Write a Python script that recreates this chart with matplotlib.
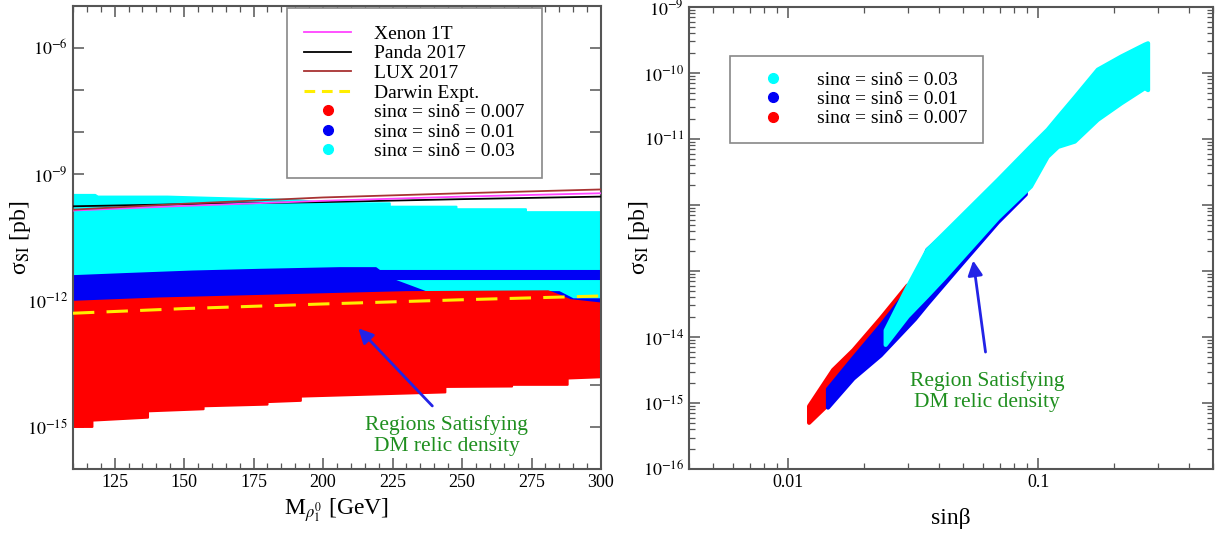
import numpy as np
import matplotlib
matplotlib.use('Agg')
import matplotlib.pyplot as plt
from matplotlib.lines import Line2D
from matplotlib.ticker import LogLocator, FuncFormatter, MultipleLocator, NullLocator, NullFormatter

plt.rcParams['font.family'] = ['Liberation Serif', 'DejaVu Serif']
plt.rcParams['mathtext.fontset'] = 'stix'

# ---------------- left panel: log10(sigma_SI / pb) vs M ----------------
mass_lines = [110, 150, 200, 250, 300]
xenon_1t = [-9.86, -9.75, -9.63, -9.53, -9.45]
panda_2017 = [-9.76, -9.71, -9.66, -9.59, -9.53]
lux_2017 = [-9.84, -9.70, -9.55, -9.45, -9.36]
darwin = [-12.30, -12.19, -12.08, -11.98, -11.89]

# sin(alpha)=sin(delta)=0.03 band
cyan_top_m = [110, 118, 119, 144, 160, 172, 190, 202, 224, 224, 248, 248, 273, 273, 300]
cyan_top = [-9.49, -9.49, -9.53, -9.53, -9.56, -9.58, -9.61, -9.69, -9.69, -9.77, -9.77, -9.83, -9.83, -9.90, -9.90]
cyan_bot_m = [110, 300]
cyan_bot = [-12.2, -12.2]

# sin(alpha)=sin(delta)=0.01 band
blue_top_m = [110, 129, 153, 177, 206, 219, 224, 237, 285, 290, 300]
blue_top = [-11.42, -11.37, -11.31, -11.27, -11.23, -11.23, -11.48, -11.80, -11.80, -11.97, -11.97]
blue_bot_m = [110, 300]
blue_bot = [-12.2, -12.2]
stripe_m = [212, 300]
stripe_lo = [-11.48, -11.48]
stripe_hi = [-11.29, -11.29]

# sin(alpha)=sin(delta)=0.007 band
red_top_m = [110, 141, 177, 206, 230, 281, 285, 289, 300]
red_top = [-12.03, -11.95, -11.89, -11.84, -11.80, -11.78, -11.88, -11.99, -12.07]
red_bot_m = [110, 117, 117, 137, 137, 157, 157, 180, 180, 192, 192, 244, 244, 268, 268, 288, 288, 300]
red_bot = [-15.0, -15.0, -14.85, -14.78, -14.63, -14.58, -14.51, -14.47, -14.41, -14.38,
           -14.28, -14.18, -14.05, -14.04, -14.0, -14.0, -13.85, -13.82]

# ---------------- right panel: log10(sigma_SI / pb) vs sin(beta) ----------------
red_sb = [0.0121, 0.0151, 0.0182, 0.0234, 0.030]
red_hi = [-15.05, -14.50, -14.20, -13.72, -13.22]
red_lo = [-15.30, -14.95, -14.55, -14.10, -13.70]

blue_sb = [0.0144, 0.0182, 0.0234, 0.0321, 0.036, 0.050, 0.069, 0.0891]
blue_hi = [-14.79, -14.32, -13.83, -13.16, -12.68, -12.20, -11.75, -11.30]
blue_lo = [-15.07, -14.63, -14.28, -13.73, -13.50, -12.87, -12.26, -11.84]

cyan_sb = [0.0245, 0.030, 0.036, 0.042, 0.069, 0.0935, 0.109, 0.120, 0.140, 0.173, 0.215, 0.267, 0.275]
cyan_hi = [-13.90, -13.24, -12.68, -12.43, -11.62, -11.11, -10.86, -10.67, -10.37, -9.95, -9.75, -9.57, -9.55]
cyan_lo = [-14.12, -13.69, -13.38, -13.11, -12.20, -11.72, -11.27, -11.12, -11.04, -10.71, -10.46, -10.23, -10.26]

series_labels = ['sinα = sinδ = 0.007', 'sinα = sinδ = 0.01', 'sinα = sinδ = 0.03']
C_RED, C_BLUE, C_CYAN = '#ff0000', '#0000f5', '#00ffff'
FRAME = '#555555'
GREEN = '#1f8f1f'
ARROW = '#2323e6'


def band(ax, xt, yt, xb, yb, color, lw):
    xs = list(xt) + list(xb)[::-1]
    ys = list(np.power(10.0, yt)) + list(np.power(10.0, yb))[::-1]
    ax.fill(xs, ys, color=color, lw=lw, joinstyle='round', zorder=2)


def style_axes(ax):
    for s in ax.spines.values():
        s.set_color(FRAME)
        s.set_linewidth(1.5)
    ax.tick_params(which='both', direction='in', top=True, right=True, color=FRAME,
                   labelsize=13)
    ax.tick_params(which='major', length=8, width=1.1)
    ax.tick_params(which='minor', length=4, width=0.9)


fig = plt.figure(figsize=(12.22, 5.36), dpi=100)
ax1 = fig.add_axes([0.0597, 0.125, 0.4321, 0.864])
ax2 = fig.add_axes([0.5638, 0.125, 0.4288, 0.862])

# ---- left ----
band(ax1, cyan_top_m, cyan_top, cyan_bot_m, cyan_bot, C_CYAN, 1.5)
band(ax1, blue_top_m, blue_top, blue_bot_m, blue_bot, C_BLUE, 1.5)
band(ax1, stripe_m, stripe_hi, stripe_m, stripe_lo, C_BLUE, 1.5)
band(ax1, red_top_m, red_top, red_bot_m, red_bot, C_RED, 1.5)

ax1.plot(mass_lines, np.power(10.0, panda_2017), color='black', lw=1.3, zorder=3)
ax1.plot(mass_lines, np.power(10.0, xenon_1t), color='#ff44ff', lw=1.3, zorder=3)
ax1.plot(mass_lines, np.power(10.0, lux_2017), color='#a83232', lw=1.3, zorder=3)
ax1.plot(mass_lines, np.power(10.0, darwin), color='#ffee00', lw=2.2, dashes=(7, 4), zorder=3)

ax1.set_yscale('log')
ax1.set_xlim(110, 300)
ax1.set_ylim(1e-16, 1e-5)
ax1.xaxis.set_major_locator(MultipleLocator(25))
ax1.xaxis.set_minor_locator(MultipleLocator(5))
ax1.yaxis.set_major_locator(LogLocator(base=10, numticks=30))
ax1.yaxis.set_minor_locator(NullLocator())
left_labels = {-6, -9, -12, -15}
ax1.yaxis.set_major_formatter(FuncFormatter(
    lambda v, p: r'$10^{%d}$' % round(np.log10(v)) if round(np.log10(v)) in left_labels else ''))
style_axes(ax1)
ax1.set_xlabel(r'M$_{\rho_1^0}$ [GeV]', fontsize=17, labelpad=4)
ax1.set_ylabel(r'σ$_{\rm SI}$ [pb]', fontsize=17)
ax1.yaxis.set_label_coords(-0.076, 0.5)

handles = [
    Line2D([], [], color='#ff44ff', lw=1.3),
    Line2D([], [], color='black', lw=1.3),
    Line2D([], [], color='#a83232', lw=1.3),
    Line2D([], [], color='#ffee00', lw=2.2, dashes=(3.5, 2.2)),
    Line2D([], [], ls='none', marker='o', ms=7, color=C_RED),
    Line2D([], [], ls='none', marker='o', ms=7, color=C_BLUE),
    Line2D([], [], ls='none', marker='o', ms=7, color=C_CYAN),
]
labels = ['Xenon 1T', 'Panda 2017', 'LUX 2017', 'Darwin Expt.'] + series_labels
leg1 = ax1.legend(handles, labels, loc='upper left', bbox_to_anchor=(0.405, 0.996),
                  fontsize=14, fancybox=False, edgecolor='#888888', framealpha=1,
                  handlelength=2.4, handletextpad=1.2, labelspacing=0.1,
                  borderpad=0.9, borderaxespad=0)
leg1.get_frame().set_linewidth(1.2)

ax1.annotate('', xy=(212, 10 ** -12.61), xytext=(240, 10 ** -14.55),
             arrowprops=dict(arrowstyle='-|>', color=ARROW, lw=2, mutation_scale=22), zorder=5)
ax1.text(244.5, 10 ** -15.2, 'Regions Satisfying\nDM relic density', color=GREEN,
         fontsize=15.5, ha='center', va='center', linespacing=1.15)

# ---- right ----
band(ax2, red_sb, red_hi, red_sb, red_lo, C_RED, 3)
band(ax2, blue_sb, blue_hi, blue_sb, blue_lo, C_BLUE, 3)
band(ax2, cyan_sb, cyan_hi, cyan_sb, cyan_lo, C_CYAN, 3)

ax2.set_xscale('log')
ax2.set_yscale('log')
ax2.set_xlim(0.004, 0.5)
ax2.set_ylim(1e-16, 1e-9)
ax2.xaxis.set_major_locator(LogLocator(base=10, numticks=10))
ax2.xaxis.set_minor_locator(LogLocator(base=10, subs=np.arange(2, 10), numticks=20))
ax2.xaxis.set_major_formatter(FuncFormatter(lambda v, p: '%g' % v))
ax2.xaxis.set_minor_formatter(NullFormatter())
ax2.yaxis.set_major_locator(LogLocator(base=10, numticks=20))
ax2.yaxis.set_minor_locator(LogLocator(base=10, subs=np.arange(2, 10), numticks=40))
ax2.yaxis.set_minor_formatter(NullFormatter())
right_labels = {-9, -10, -11, -14, -15, -16}
ax2.yaxis.set_major_formatter(FuncFormatter(
    lambda v, p: r'$10^{%d}$' % round(np.log10(v)) if round(np.log10(v)) in right_labels else ''))
style_axes(ax2)
ax2.set_xlabel('sinβ', fontsize=17, labelpad=12)
ax2.set_ylabel(r'σ$_{\rm SI}$ [pb]', fontsize=17)
ax2.yaxis.set_label_coords(-0.071, 0.5)

handles2 = [Line2D([], [], ls='none', marker='o', ms=7, color=c) for c in (C_CYAN, C_BLUE, C_RED)]
leg2 = ax2.legend(handles2, series_labels[::-1], loc='upper left', bbox_to_anchor=(0.078, 0.894),
                  fontsize=14, fancybox=False, edgecolor='#888888', framealpha=1,
                  handlelength=2.8, handletextpad=0.9, labelspacing=0.08,
                  borderpad=0.8, borderaxespad=0)
leg2.get_frame().set_linewidth(1.2)

ax2.annotate('', xy=(0.0547, 10 ** -12.80), xytext=(0.0617, 10 ** -14.27),
             arrowprops=dict(arrowstyle='-|>', color=ARROW, lw=2, mutation_scale=22), zorder=5)
ax2.text(0.0622, 10 ** -14.83, 'Region Satisfying\nDM relic density', color=GREEN,
         fontsize=15.5, ha='center', va='center', linespacing=1.15)

fig.savefig('out.png', dpi=100)
